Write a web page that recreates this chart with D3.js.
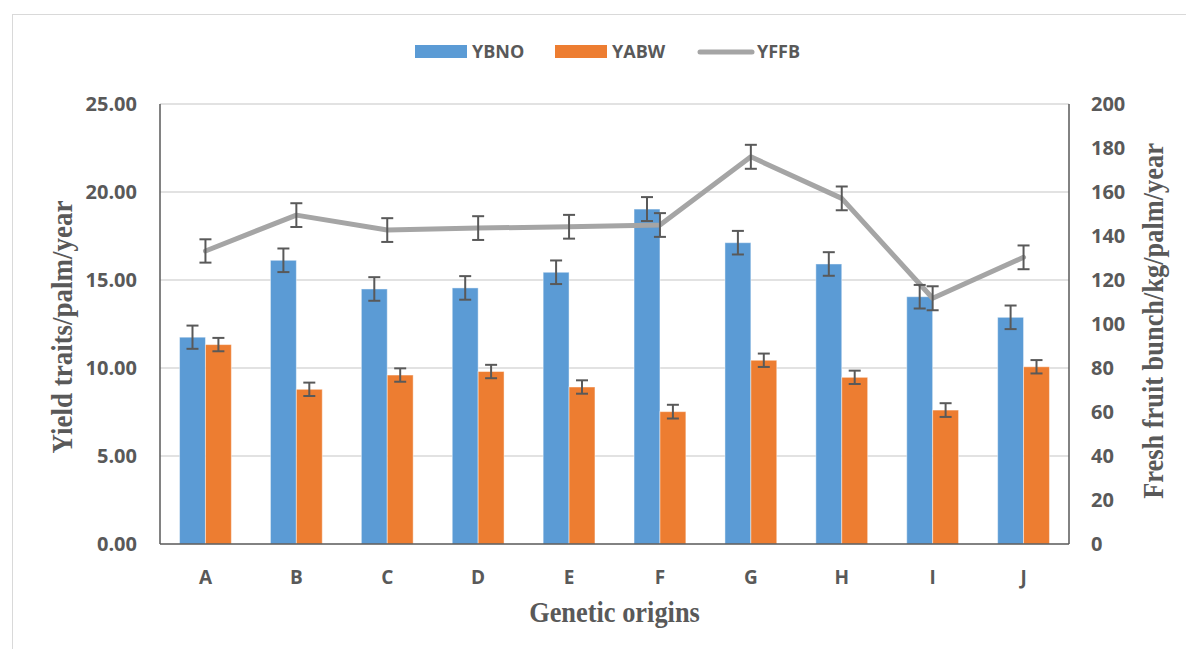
<!DOCTYPE html>
<html>
<head>
<meta charset="utf-8">
<script src="https://cdn.jsdelivr.net/npm/d3@7"></script>
<style>
  body { margin: 0; background: #fff; }
  svg { display: block; }
</style>
</head>
<body>
<div id="chart"></div>
<script>
  'use strict';

  var categories = ['A', 'B', 'C', 'D', 'E', 'F', 'G', 'H', 'I', 'J'];
  var seriesNames = ['YBNO', 'YABW', 'YFFB'];
  var ybno = [11.75, 16.12, 14.49, 14.55, 15.44, 19.03, 17.12, 15.91, 14.05, 12.88];
  var ybnoErr = [0.66, 0.67, 0.67, 0.67, 0.67, 0.68, 0.67, 0.67, 0.67, 0.67];
  var yabw = [11.33, 8.79, 9.6, 9.8, 8.92, 7.52, 10.44, 9.47, 7.61, 10.07];
  var yabwErr = [0.38, 0.38, 0.38, 0.38, 0.38, 0.39, 0.38, 0.38, 0.39, 0.38];
  var yffb = [133.2, 149.5, 142.7, 143.6, 144.2, 145.0, 176.0, 157.1, 111.7, 130.3];
  var yffbErr = [5.3, 5.4, 5.4, 5.4, 5.4, 5.4, 5.45, 5.4, 5.45, 5.4];
  var leftTicks = [0, 5, 10, 15, 20, 25];
  var rightTicks = [0, 20, 40, 60, 80, 100, 120, 140, 160, 180, 200];

  (function () {

    var width = 1186, height = 649;
    var plotLeft = 160, plotRight = 1069, plotTop = 104, plotBottom = 544;
    var grey = '#595959';
    var colors = { YBNO: '#5B9BD5', YABW: '#ED7D31', YFFB: '#A5A5A5' };
    var sans = '"Open Sans", sans-serif';
    var serif = '"Liberation Serif", "Times New Roman", serif';

    var svg = d3.select('#chart')
        .append('svg')
        .attr('width', width)
        .attr('height', height);

    // outer chart frame
    svg.append('rect')
        .attr('x', 12.5).attr('y', 14.5)
        .attr('width', 1200).attr('height', 700)
        .attr('fill', 'none')
        .attr('stroke', '#d9d9d9')
        .attr('stroke-width', 1);

    var x0 = d3.scaleBand()
        .domain(categories)
        .range([plotLeft, plotRight])
        .paddingInner(0.43)
        .paddingOuter(0.215);

    var x1 = d3.scaleBand()
        .domain(['YBNO', 'YABW'])
        .range([0, x0.bandwidth()]);

    var yL = d3.scaleLinear().domain([0, 25]).range([plotBottom, plotTop]);
    var yR = d3.scaleLinear().domain([0, 200]).range([plotBottom, plotTop]);

    function center(c) { return x0(c) + x0.bandwidth() / 2; }

    // gridlines
    svg.append('g')
        .selectAll('line')
        .data(leftTicks.filter(function (d) { return d > 0; }))
        .enter()
        .append('line')
        .attr('x1', plotLeft).attr('x2', plotRight)
        .attr('y1', function (d) { return yL(d); })
        .attr('y2', function (d) { return yL(d); })
        .attr('stroke', '#d9d9d9')
        .attr('stroke-width', 1.5);

    // bars
    var barData = [];
    categories.forEach(function (c, i) {
      barData.push({ cat: c, name: 'YBNO', v: ybno[i], e: ybnoErr[i] });
      barData.push({ cat: c, name: 'YABW', v: yabw[i], e: yabwErr[i] });
    });

    svg.append('g')
        .selectAll('rect')
        .data(barData)
        .enter()
        .append('rect')
        .attr('x', function (d) { return x0(d.cat) + x1(d.name); })
        .attr('y', function (d) { return yL(d.v); })
        .attr('width', x1.bandwidth())
        .attr('height', function (d) { return plotBottom - yL(d.v); })
        .attr('fill', function (d) { return colors[d.name]; })
        .attr('stroke', 'rgba(255,255,255,0.45)')
        .attr('stroke-width', 1);

    // line
    var line = d3.line()
        .x(function (d, i) { return center(categories[i]); })
        .y(function (d) { return yR(d); });

    svg.append('path')
        .datum(yffb)
        .attr('d', line)
        .attr('fill', 'none')
        .attr('stroke', colors.YFFB)
        .attr('stroke-width', 5)
        .attr('stroke-linejoin', 'round')
        .attr('stroke-linecap', 'round');

    // error bars
    var errData = barData.map(function (d) {
      var cx = x0(d.cat) + x1(d.name) + x1.bandwidth() / 2;
      return { x: cx, y1: yL(d.v - d.e), y2: yL(d.v + d.e) };
    });
    yffb.forEach(function (v, i) {
      errData.push({ x: center(categories[i]), y1: yR(v - yffbErr[i]), y2: yR(v + yffbErr[i]) });
    });

    var eg = svg.append('g')
        .attr('stroke', grey)
        .attr('stroke-width', 2);

    errData.forEach(function (d) {
      eg.append('line').attr('x1', d.x).attr('x2', d.x).attr('y1', d.y1).attr('y2', d.y2);
      eg.append('line').attr('x1', d.x - 6).attr('x2', d.x + 6).attr('y1', d.y1).attr('y2', d.y1);
      eg.append('line').attr('x1', d.x - 6).attr('x2', d.x + 6).attr('y1', d.y2).attr('y2', d.y2);
    });

    // axes lines
    var ax = svg.append('g').attr('stroke', grey).attr('stroke-width', 1.5);
    ax.append('line').attr('x1', plotLeft).attr('x2', plotLeft).attr('y1', plotTop).attr('y2', plotBottom);
    ax.append('line').attr('x1', plotRight).attr('x2', plotRight).attr('y1', plotTop).attr('y2', plotBottom);
    ax.append('line').attr('x1', plotLeft).attr('x2', plotRight).attr('y1', plotBottom).attr('y2', plotBottom);

    // tick labels
    svg.append('g')
        .selectAll('text')
        .data(leftTicks)
        .enter()
        .append('text')
        .attr('x', 137)
        .attr('y', function (d) { return yL(d); })
        .attr('dy', '0.36em')
        .attr('text-anchor', 'end')
        .style('font', 'bold 20px ' + sans)
        .attr('fill', grey)
        .text(function (d) { return d3.format('.2f')(d); });

    svg.append('g')
        .selectAll('text')
        .data(rightTicks)
        .enter()
        .append('text')
        .attr('x', 1091)
        .attr('y', function (d) { return yR(d); })
        .attr('dy', '0.36em')
        .attr('text-anchor', 'start')
        .style('font', 'bold 20px ' + sans)
        .attr('fill', grey)
        .text(function (d) { return d; });

    svg.append('g')
        .selectAll('text')
        .data(categories)
        .enter()
        .append('text')
        .attr('x', function (d) { return center(d); })
        .attr('y', 577)
        .attr('dy', '0.36em')
        .attr('text-anchor', 'middle')
        .style('font', 'bold 19px ' + sans)
        .attr('fill', grey)
        .text(function (d) { return d; });

    // axis titles (condensed serif, like the original)
    svg.append('text')
        .attr('transform', 'translate(72,327) rotate(-90) scale(0.93,1)')
        .attr('text-anchor', 'middle')
        .style('font', 'bold 29px ' + serif)
        .attr('fill', grey)
        .text('Yield traits/palm/year');

    svg.append('text')
        .attr('transform', 'translate(1163,321) rotate(-90) scale(0.91,1)')
        .attr('text-anchor', 'middle')
        .style('font', 'bold 29px ' + serif)
        .attr('fill', grey)
        .text('Fresh fruit bunch/kg/palm/year');

    svg.append('text')
        .attr('transform', 'translate(614.5,622) scale(0.91,1)')
        .attr('text-anchor', 'middle')
        .style('font', 'bold 29px ' + serif)
        .attr('fill', grey)
        .text('Genetic origins');

    // legend
    var legendX = [415, 555, 698];
    var lg = svg.append('g');
    seriesNames.forEach(function (name, i) {
      var gx = legendX[i];
      if (name === 'YFFB') {
        lg.append('line')
            .attr('x1', gx + 2).attr('x2', gx + 54)
            .attr('y1', 52).attr('y2', 52)
            .attr('stroke', colors[name])
            .attr('stroke-width', 5)
            .attr('stroke-linecap', 'round');
      } else {
        lg.append('rect')
            .attr('x', gx).attr('y', 45)
            .attr('width', 52).attr('height', 13)
            .attr('fill', colors[name]);
      }
      lg.append('text')
          .attr('x', gx + (name === 'YFFB' ? 59 : 57))
          .attr('y', 52)
          .attr('dy', '0.36em')
          .style('font', 'bold 18px ' + sans)
          .attr('fill', grey)
          .text(name);
    });

  })();
</script>
</body>
</html>
